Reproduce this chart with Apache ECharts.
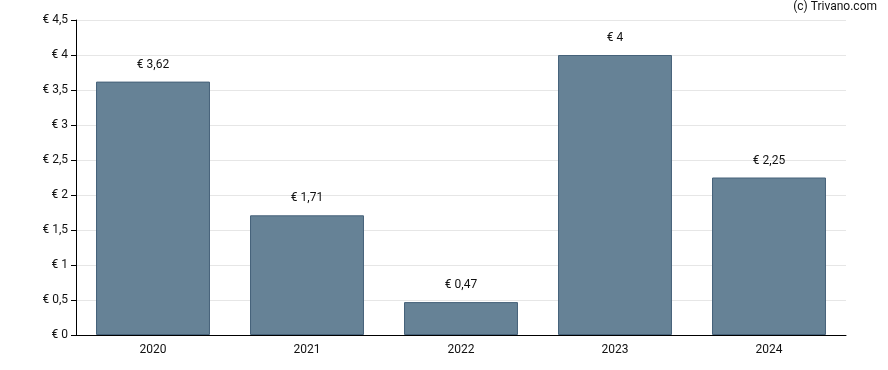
<!DOCTYPE html>
<html><head><meta charset="utf-8">
<script src="https://cdn.jsdelivr.net/npm/echarts@6/dist/echarts.min.js"></script>
<style>html,body{margin:0;padding:0;background:#fff}#c{width:888px;height:370px}</style>
</head><body><div id="c"></div>
<script>
const categories = ['2020','2021','2022','2023','2024'];
const values = [3.62, 1.71, 0.47, 4, 2.25];
const yTicks = [0, 0.5, 1, 1.5, 2, 2.5, 3, 3.5, 4, 4.5];
const fmt = v => '€ ' + String(v).replace('.', ',');
const chart = echarts.init(document.getElementById('c'), null, {renderer:'canvas'});
chart.setOption({
  animation:false,
  textStyle:{fontFamily:'Roboto'},
  graphic:[{type:'text', right:11, top:1, style:{text:'(c) Trivano.com', font:'12px Roboto', fill:'#111'}}],
  grid:{left:76, right:42, top:20, bottom:35},
  xAxis:{type:'category', data:categories,
    axisLine:{lineStyle:{color:'#000', width:1}},
    axisTick:{alignWithLabel:true, length:5, lineStyle:{color:'#000'}},
    axisLabel:{color:'#111', fontSize:12, margin:9}},
  yAxis:{type:'value', min:0, max:4.5, interval:0.5,
    axisLine:{show:true, lineStyle:{color:'#000'}},
    axisTick:{show:true, length:5, lineStyle:{color:'#000'}},
    splitLine:{lineStyle:{color:'#e6e6e6'}},
    axisLabel:{color:'#111', fontSize:12, margin:8, formatter:v=>fmt(v)}},
  series:[{type:'bar', data:values, barWidth:'74%',
    itemStyle:{color:'#668296', borderColor:'#46627a', borderWidth:1},
    label:{show:true, position:'top', distance:11, color:'#111', fontSize:12, formatter:p=>fmt(p.value)}}]
});
</script></body></html>
